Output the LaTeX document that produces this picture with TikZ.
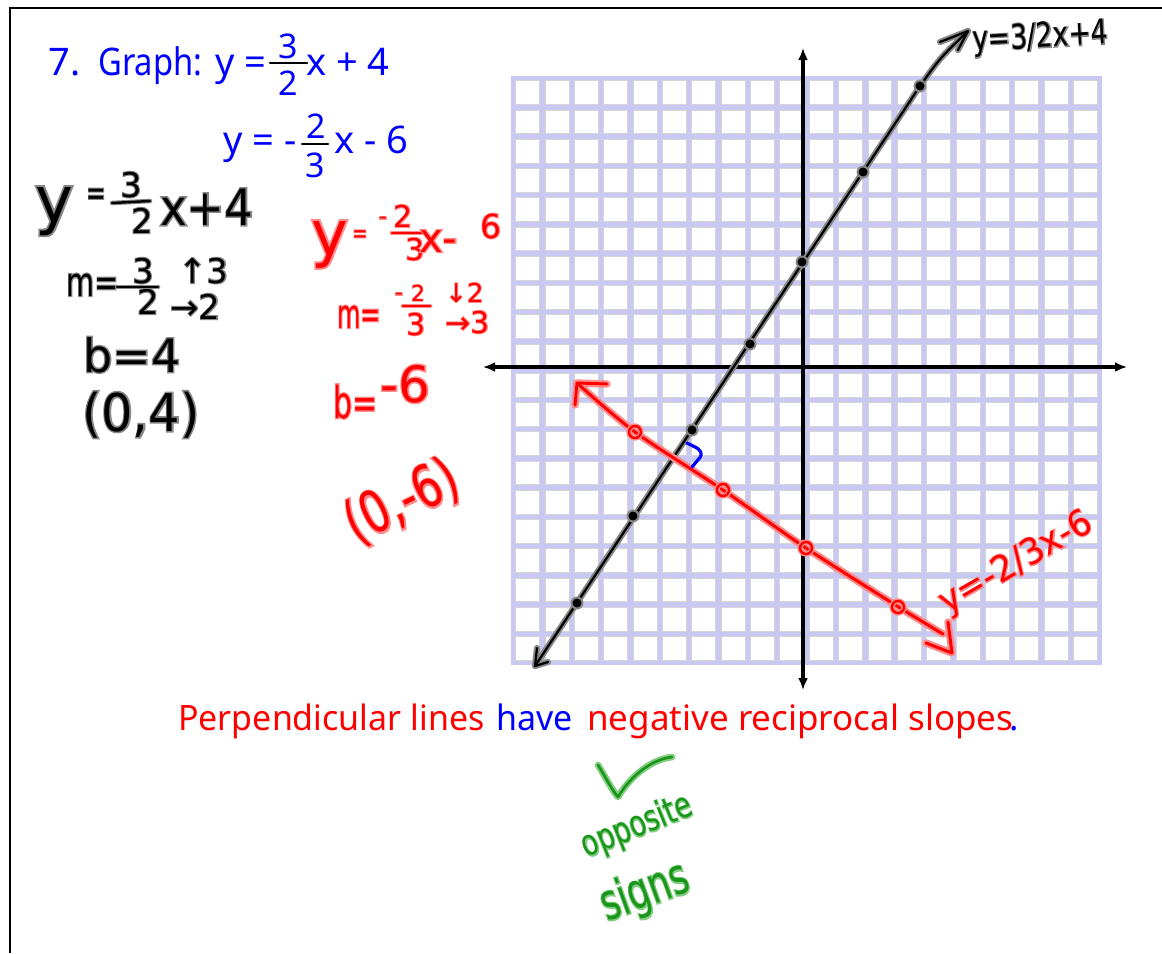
\documentclass[tikz,border=0pt]{standalone}
\usepackage{fontspec}
\usepackage{graphicx}
\usetikzlibrary{arrows.meta}
\newfontfamily\typedfont{Noto Sans}
\newfontfamily\handfont{DejaVu Sans}
\newfontfamily\halofont[FakeBold=6]{DejaVu Sans}
\definecolor{gridlav}{RGB}{200,200,243}
\definecolor{sqedge}{RGB}{214,214,214}
\definecolor{inkblue}{RGB}{0,0,255}
\definecolor{inkred}{RGB}{255,0,0}
\definecolor{haloblack}{RGB}{135,135,135}
\definecolor{halored}{RGB}{255,140,140}
\definecolor{inkgreen}{RGB}{25,150,25}
\definecolor{halogreen}{RGB}{130,205,130}
\newcommand\px[1]{\fontsize{\fpeval{0.75*#1}pt}{\fpeval{0.9*#1}pt}\selectfont}
\newcommand\hw[3]{\scalebox{#2}[1]{\px{#1}#3}}
% pen halo: an emboldened copy in a lighter colour under the text
\newcommand\penhalo[2]{\rlap{\halofont\textcolor{#1}{#2}}#2}
\newcommand\hk[1]{\penhalo{haloblack}{#1}}
\newcommand\hr[1]{\penhalo{halored}{#1}}
\newcommand\hg[1]{\penhalo{halogreen}{#1}}
\tikzset{
  typed/.style={inner sep=0pt, anchor=base west, font=\typedfont},
  hand/.style={inner sep=0pt, anchor=base west, font=\handfont},
  fracbar/.style={line width=2pt, line cap=round},
  axisline/.style={line width=2.4pt, arrows={Latex[length=9pt,width=7.5pt]-Latex[length=9pt,width=7.5pt]}},
  halo black/.style={line width=4.6pt, haloblack, line cap=round, line join=round},
  ink black/.style={line width=1.7pt, black, line cap=round, line join=round},
  halo red/.style={line width=5.5pt, halored, line cap=round, line join=round},
  ink red/.style={line width=2.2pt, inkred, line cap=round, line join=round},
  halo green/.style={line width=5pt, halogreen, line cap=round, line join=round},
  ink green/.style={line width=2pt, inkgreen, line cap=round, line join=round},
}
\begin{document}
\begin{tikzpicture}[x=0.75pt,y=-0.75pt]
\useasboundingbox (0,0) rectangle (1162,953);
\fill[white] (0,0) rectangle (1162,953);
% frame
\draw[line width=2.2pt] (10,953) -- (10,8) -- (1162,8);

% grid
\fill[gridlav] (511,76) rectangle (1102,665);
\foreach \i in {0,...,19}{
  \foreach \j in {0,...,19}{
    \filldraw[fill=white, draw=sqedge, line width=0.6pt]
      ({513+29.35*\i+2.7},{78+29.25*\j+2.7}) rectangle ({513+29.35*(\i+1)-2.7},{78+29.25*(\j+1)-2.7});
  }
}

% axes
\coordinate (xl) at (483,367);
\coordinate (xr) at (1127,367);
\coordinate (yt) at (803,48);
\coordinate (yb) at (803,690);
\draw[axisline] (xl) -- (xr);
\draw[axisline] (yb) -- (yt);

% black line y = 3/2 x + 4
\coordinate (b0) at (535,666);
\coordinate (b1) at (920,86);
\coordinate (b2) at (968,31);
\foreach \s in {halo black, ink black}{
  \draw[\s] (b0) -- (b1) .. controls (940,58) .. (b2);
  \draw[\s] (940,42) -- (b2) -- (958,50);
  \draw[\s] (537,648) -- (b0) -- (548,662);
}
\foreach \p in {(577,603),(633,516),(692,430),(750,344),(802,262),(863,172),(920,86)}{
  \fill[haloblack] \p circle (6.5);
  \fill[black] \p circle (4.5);
}

% red line y = -2/3 x - 6
\coordinate (r0) at (577,383);
\coordinate (r1) at (943,634);
\coordinate (r2) at (952,653);
\foreach \s in {halo red, ink red}{
  \draw[\s] plot[smooth] coordinates {(577,383) (635,432) (723,490) (806,548) (897,606) (943,634)};
  \draw[\s] (607,384) -- (r0) -- (575,405);
  \draw[\s] (926,643) -- (r2) -- (948,622);
}
\foreach \p in {(635,432),(723,490),(806,548),(898,607)}{
  \draw[halo red, line width=4pt] \p circle (6);
  \draw[ink red, line width=1.8pt] \p circle (6);
}

% right angle mark
\draw[line width=2.4pt, inkblue, line cap=round, line join=round, rounded corners=2pt] (687,443) -- (699,449) -- (702,455) -- (692,467);

% typed title (blue)
\node[typed, text=inkblue] (t7) at (48,75) {\px{38}7.};
\node[typed, text=inkblue] (tgraph) at (98,75) {\hw{38}{0.86}{Graph:}};
\node[typed, text=inkblue] (ty1) at (215,75) {\px{38}y =};
\node[typed, anchor=base, text=inkblue] (tn1) at (288,58) {\px{34}3};
\node[typed, anchor=base, text=inkblue] (td1) at (288,95) {\px{34}2};
\draw[fracbar] (270,63) -- (307,63);
\node[typed, text=inkblue] (tx1) at (306,75) {\px{38}x + 4};

\node[typed, text=inkblue] (ty2) at (223,153) {\px{38}y = -};
\node[typed, anchor=base, text=inkblue] (tn2) at (316,138) {\px{34}2};
\node[typed, anchor=base, text=inkblue] (td2) at (315,177) {\px{34}3};
\draw[fracbar] (302,144) -- (328,144);
\node[typed, text=inkblue] (tx2) at (334,153) {\px{38}x - 6};

% bottom statement
\node[typed, text=inkred] (pl) at (178,730) {\hw{35}{0.97}{Perpendicular lines}};
\node[typed, text=inkblue] (hv) at (496,730) {\hw{35}{0.97}{have}};
\node[typed, text=inkred] (nr) at (587,730) {\px{35}negative reciprocal slopes};
\node[typed, text=inkblue] (pd) at (1009,730) {\px{35}.};

% black handwriting
\node[hand] (hy) at (35,222) {\px{64}\hk{y}};
\node[hand] (heq) at (86,205) {\hw{36}{0.65}{\hk{=}}};
\node[hand, anchor=base] (hn1) at (131,197) {\px{34}\hk{3}};
\node[hand, anchor=base] (hd1) at (142,233) {\px{34}\hk{2}};
\draw[fracbar, line width=3.4pt, haloblack] (112,203) -- (150,201);
\draw[fracbar, line width=1.8pt] (112,203) -- (150,201);
\node[hand] (hx1) at (160,225) {\hw{50}{0.9}{\hk{x+4}}};
\node[hand] (hm) at (66,296) {\hw{40}{0.72}{\hk{m=}}};
\node[hand, anchor=base] (hn2) at (143,283) {\px{34}\hk{3}};
\node[hand, anchor=base] (hd2) at (148,314) {\px{34}\hk{2}};
\draw[fracbar, line width=3.4pt, haloblack] (117,287) -- (158,287);
\draw[fracbar, line width=1.8pt] (117,287) -- (158,287);
\node[hand] (hup) at (178,283) {\px{34}\hk{↑3}};
\node[hand] (hrt) at (170,319) {\px{34}\hk{→2}};
\node[hand] (hb) at (83,372) {\px{46}\hk{b=4}};
\node[hand] (hpt) at (82,431) {\hw{52}{0.95}{\hk{(0,4)}}};

% red handwriting
\node[hand, text=inkred] (ry) at (311,255) {\px{62}\hr{y}};
\node[hand, text=inkred] (req) at (352,242) {\hw{26}{0.7}{\hr{=}}};
\node[hand, text=inkred, anchor=center] (rmn) at (383,221) {\px{24}\hr{-}};
\node[hand, text=inkred, anchor=base] (rn1) at (403,227) {\px{30}\hr{2}};
\node[hand, text=inkred, anchor=base] (rd1) at (415,260) {\px{30}\hr{3}};
\draw[fracbar, line width=3.6pt, halored] (392,233) -- (422,233);
\draw[fracbar, line width=1.8pt, inkred] (392,233) -- (422,233);
\node[hand, text=inkred] (rx) at (419,252) {\px{40}\hr{x-}};
\node[hand, text=inkred] (r6) at (480,238) {\px{33}\hr{6}};
\node[hand, text=inkred] (rm) at (337,328) {\hw{40}{0.6}{\hr{m=}}};
\node[hand, text=inkred, anchor=center] (rmn2) at (399,297) {\px{24}\hr{-}};
\node[hand, text=inkred, anchor=base] (rn2) at (418,301) {\px{22}\hr{2}};
\node[hand, text=inkred, anchor=base] (rd2) at (416,335) {\px{30}\hr{3}};
\draw[fracbar, line width=3.6pt, halored] (403,306) -- (430,306);
\draw[fracbar, line width=1.8pt, inkred] (403,306) -- (430,306);
\node[hand, text=inkred] (rdn) at (445,302) {\px{26}\hr{↓2}};
\node[hand, text=inkred] (rrt) at (445,333) {\px{30}\hr{→3}};
\node[hand, text=inkred] (rb) at (333,418) {\hw{44}{0.68}{\hr{b=}}};
\node[hand, text=inkred] (rb6) at (380,402) {\px{50}\hr{-6}};
\node[hand, text=inkred, anchor=center, rotate=26] (rpt) at (402,502) {\hw{58}{0.75}{\hr{(0,-6)}}};

% line labels
\node[hand, rotate=3] (blab) at (973,51) {\hw{34}{0.78}{\hk{y=3/2x+4}}};
\node[hand, text=inkred, anchor=base, rotate=30] (rlab) at (1021,572) {\hw{36}{0.95}{\hr{y=-2/3x-6}}};

% green notes
\foreach \s in {halo green, ink green}{
  \draw[\s] (598,765) .. controls (606,778) and (612,790) .. (618,797) .. controls (628,780) and (648,760) .. (672,757);
}
\node[hand, text=inkgreen, anchor=center, rotate=22] (gop) at (637,827) {\hw{36}{0.75}{\hg{opposite}}};
\node[hand, text=inkgreen, anchor=center, rotate=20] (gsg) at (645,893) {\hw{50}{0.7}{\hg{signs}}};
\end{tikzpicture}
\end{document}
